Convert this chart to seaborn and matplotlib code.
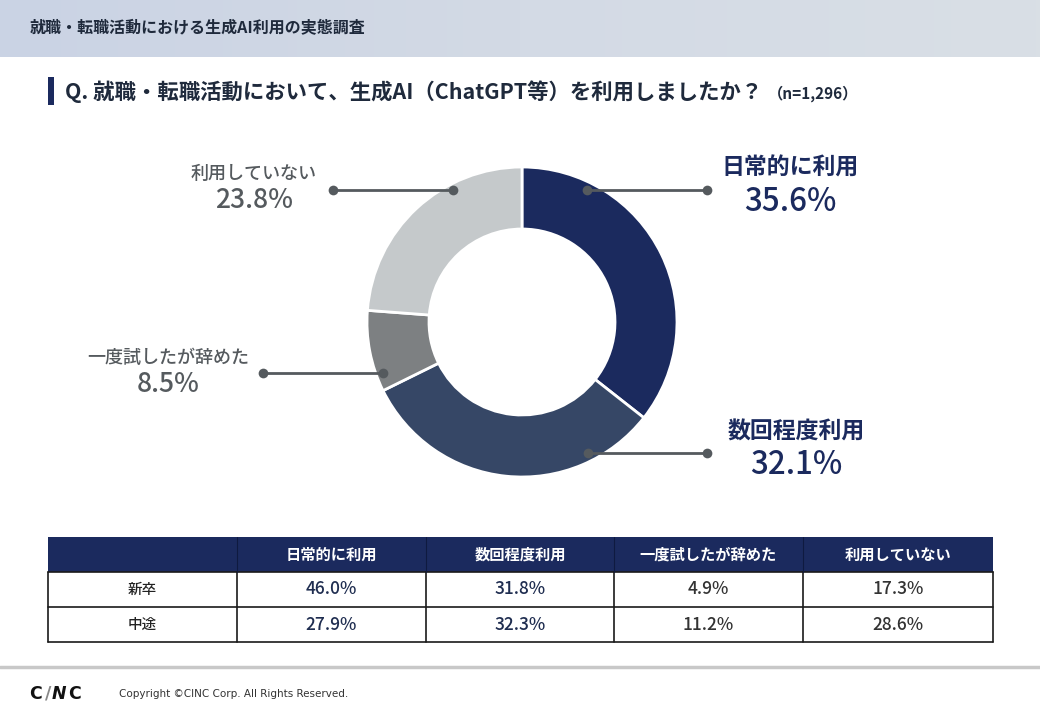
import matplotlib
matplotlib.use("Agg")
import matplotlib.pyplot as plt
import seaborn as sns
import numpy as np
from matplotlib.patches import Rectangle
from matplotlib.colors import LinearSegmentedColormap

# ---------------- data ----------------
categories = ["日常的に利用", "数回程度利用", "一度試したが辞めた", "利用していない"]
overall = [35.6, 32.1, 8.5, 23.8]
row_labels = ["新卒", "中途"]
shinsotsu = [46.0, 31.8, 4.9, 17.3]
chuto = [27.9, 32.3, 11.2, 28.6]
header_title = "就職・転職活動における生成AI利用の実態調査"
question = "Q. 就職・転職活動において、生成AI（ChatGPT等）を利用しましたか？"
n_text = "（n=1,296）"

# ---------------- style ----------------
sns.set_theme(style="white")
plt.rcParams['font.family'] = ['Noto Sans CJK JP', 'DejaVu Sans']

NAVY = "#1b2a5e"
SLATE = "#364766"
MID = "#7d8082"
LIGHT = "#c5c9cb"
palette = sns.color_palette([NAVY, SLATE, MID, LIGHT])
TXT_DARK = "#1f2a3c"
TXT_GRAY = "#555a5e"

W, H = 1040, 720
fig = plt.figure(figsize=(W / 100, H / 100), dpi=100)
fig.patch.set_facecolor("white")

# background/layout axes in pixel coordinates
bg = fig.add_axes([0, 0, 1, 1])
bg.set_xlim(0, W)
bg.set_ylim(H, 0)
bg.axis("off")

# header band (soft horizontal gradient)
cmap = LinearSegmentedColormap.from_list("hdr", ["#cad3e4", "#d3dae5", "#d9dfe5"])
grad = np.linspace(0, 1, 256).reshape(1, -1)
bg.imshow(grad, cmap=cmap, extent=(0, W, 57, 0), aspect="auto", zorder=0)
bg.set_xlim(0, W)
bg.set_ylim(H, 0)
bg.text(30, 28, header_title, fontsize=11.5, fontweight="bold", color=TXT_DARK,
        va="center", ha="left")

# question title
bg.add_patch(Rectangle((48, 77), 6, 28, color=NAVY, lw=0))
t = bg.text(65, 92, question, fontsize=15.4, fontweight="bold", color=TXT_DARK,
            va="center", ha="left")
fig.canvas.draw()
bb = t.get_window_extent()
x_end = bb.x1
bg.text(x_end + 6, 94, n_text, fontsize=11, fontweight="bold", color=TXT_DARK,
        va="center", ha="left")

# ---------------- donut ----------------
cx, cy, R = 522, 322, 155
dax = fig.add_axes([(cx - R) / W, (H - cy - R) / H, 2 * R / W, 2 * R / H])
dax.pie(overall, colors=palette, startangle=90, counterclock=False, radius=1.0,
        wedgeprops=dict(width=0.4, edgecolor="white", linewidth=2))
dax.set_xlim(-1, 1)
dax.set_ylim(-1, 1)
dax.set_aspect("equal")
dax.axis("off")

# ---------------- annotations overlay ----------------
ov = fig.add_axes([0, 0, 1, 1])
ov.set_xlim(0, W)
ov.set_ylim(H, 0)
ov.axis("off")
ov.patch.set_alpha(0)

leaders = [((587, 190), (707, 190)), ((588, 453), (707, 453)),
           ((263, 373), (383, 373)), ((333, 190), (453, 190))]
for (x0, y0), (x1, y1) in leaders:
    ov.plot([x0, x1], [y0, y1], color=TXT_GRAY, lw=2, solid_capstyle="butt")
    ov.plot([x0, x1], [y0, y1], "o", color=TXT_GRAY, ms=7, mew=0)

label_pos = [(790, 168, 202), (796, 432, 465), (168, 358, 384), (254, 174, 200)]
for i, (cat, val) in enumerate(zip(categories, overall)):
    x, yl, yv = label_pos[i]
    if i < 2:
        col, fs1, fs2, fw = NAVY, 16.5, 22.5, "bold"
    else:
        col, fs1, fs2, fw = TXT_GRAY, 13, 19, "medium"
    ov.text(x, yl, cat, fontsize=fs1, fontweight=fw, color=col,
            ha="center", va="center")
    ov.text(x, yv, f"{val:.1f}%", fontsize=fs2, fontweight="medium", color=col,
            ha="center", va="center")

# ---------------- table ----------------
col_x = [48, 237, 426, 614, 803, 993]
row_y = [537, 572, 607, 642]
bg.add_patch(Rectangle((col_x[0], row_y[0]), col_x[-1] - col_x[0], row_y[1] - row_y[0],
                       color=NAVY, lw=0))
for j, cat in enumerate(categories):
    xc = (col_x[j + 1] + col_x[j + 2]) / 2
    bg.text(xc, (row_y[0] + row_y[1]) / 2, cat, fontsize=11, fontweight="bold",
            color="white", ha="center", va="center")

rows = [shinsotsu, chuto]
for r, (lab, vals) in enumerate(zip(row_labels, rows)):
    yc = (row_y[r + 1] + row_y[r + 2]) / 2
    bg.text((col_x[0] + col_x[1]) / 2, yc, lab, fontsize=10.5, fontweight="medium",
            color="#222222", ha="center", va="center")
    for j, v in enumerate(vals):
        xc = (col_x[j + 1] + col_x[j + 2]) / 2
        col = "#1f2d50" if j < 2 else "#333333"
        bg.text(xc, yc, f"{v:.1f}%", fontsize=12.5, fontweight="medium",
                color=col, ha="center", va="center")

lc = "#1a1a1a"
for y in row_y[1:]:
    bg.plot([col_x[0], col_x[-1]], [y, y], color=lc, lw=1.2)
for x in col_x:
    bg.plot([x, x], [row_y[1], row_y[-1]], color=lc, lw=1.2)
for x in col_x[1:-1]:
    bg.plot([x, x], [row_y[0], row_y[1]], color="#0f1a40", lw=0.8)

# ---------------- footer ----------------
bg.plot([0, W], [667, 667], color="#c8c8c8", lw=2.5)
logo_parts = [("C", 29, "#111111", "normal"), ("/", 45, "#888888", "normal"),
              ("N", 52, "#111111", "italic"), ("C", 68, "#111111", "normal")]
for ch, x, c, st in logo_parts:
    bg.text(x, 694, ch, fontsize=12.5, fontweight="bold", color=c, ha="left",
            va="center", family="DejaVu Sans", style=st)
bg.text(119, 694, "Copyright ©CINC Corp. All Rights Reserved.", fontsize=7.5,
        color="#333333", ha="left", va="center", family="DejaVu Sans")

fig.savefig("out.png", dpi=100, facecolor="white")
